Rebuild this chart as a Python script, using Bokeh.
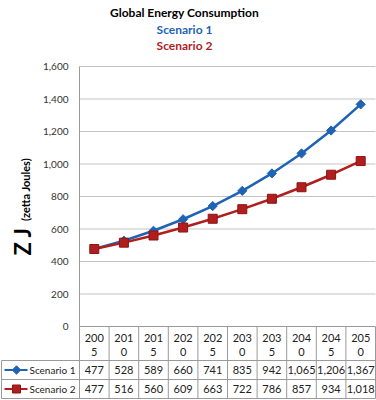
import numpy as np
from bokeh.plotting import figure
from bokeh.models import Range1d, FixedTicker, NumeralTickFormatter
from bokeh.core.properties import value
from bokeh.embed import file_html
from bokeh.resources import INLINE

# ---------------- data ----------------
years = ["2005", "2010", "2015", "2020", "2025", "2030", "2035", "2040", "2045", "2050"]
scenario1 = [477, 528, 589, 660, 741, 835, 942, 1065, 1206, 1367]
scenario2 = [477, 516, 560, 609, 663, 722, 786, 857, 934, 1018]
y_ticks = [0, 200, 400, 600, 800, 1000, 1200, 1400, 1600]
series_names = ["Scenario 1", "Scenario 2"]
title_text = "Global Energy Consumption"

# ---------------- layout (pixels) ----------------
W, H = 376, 400
LEFT, RIGHT, TOP, BOTTOM = 79, 375, 66, 398
ZERO_Y = 326
ROW1_TOP, ROW2_TOP = 360, 379
n = len(years)
col_w = (RIGHT - LEFT) / n
upp = y_ticks[-1] / (ZERO_Y - TOP)


def dx(px):
    return (px - LEFT) / col_w


def dy(py):
    return (ZERO_Y - py) * upp


BLUE = "#1F63B5"
RED = "#B01E1E"
RED_DARK = "#8A1515"
GRID = "#C4C4C4"
TABLE = "#9A9A9A"
FONT = "Lato"
TXT = "#222222"

p = figure(width=W, height=H, output_backend="svg", toolbar_location=None,
           x_range=Range1d(dx(0), dx(W)), y_range=Range1d(dy(H), dy(0)),
           x_axis_location=None,
           min_border_left=0, min_border_right=0, min_border_top=0, min_border_bottom=0)
p.outline_line_color = None
p.background_fill_color = "white"
p.border_fill_color = "white"

# y axis, placed at the left edge of the plot area
p.yaxis.fixed_location = 0
p.yaxis.bounds = (y_ticks[0], y_ticks[-1])
p.yaxis.ticker = FixedTicker(ticks=y_ticks)
p.yaxis.formatter = NumeralTickFormatter(format="0,0")
p.yaxis.major_tick_line_color = None
p.yaxis.minor_tick_line_color = None
p.yaxis.major_tick_out = 0
p.yaxis.major_tick_in = 0
p.yaxis.major_label_standoff = 11
p.yaxis.axis_line_color = TABLE
p.yaxis.major_label_text_font = FONT
p.yaxis.major_label_text_font_size = "10px"
p.yaxis.major_label_text_color = "#333333"
p.xgrid.visible = False
p.ygrid.visible = False

xs = [i + 0.5 for i in range(n)]

# horizontal gridlines across the plot area
gt = y_ticks[1:]
p.segment(x0=[0] * len(gt), y0=gt, x1=[n] * len(gt), y1=gt, line_color=GRID, line_width=1)

# series
p.line(xs, scenario1, line_color=BLUE, line_width=2.5)
p.scatter(xs, scenario1, marker="square", angle=np.pi / 4, size=6.5,
          fill_color=BLUE, line_color=BLUE)
p.line(xs, scenario2, line_color=RED, line_width=2.5)
p.scatter(xs, scenario2, marker="square", size=9, fill_color=RED, line_color=RED_DARK)

# data table grid
vx = list(range(0, n + 1))
p.segment(x0=vx, y0=[0] * len(vx), x1=vx, y1=[dy(BOTTOM)] * len(vx),
          line_color=TABLE, line_width=1)
hy = [dy(ROW1_TOP), dy(ROW2_TOP), dy(BOTTOM)]
p.segment(x0=[0], y0=[0], x1=[n], y1=[0], line_color=TABLE, line_width=1)
p.segment(x0=[dx(1)] * 3, y0=hy, x1=[n] * 3, y1=hy, line_color=TABLE, line_width=1)
p.segment(x0=[dx(1)], y0=[dy(ROW1_TOP)], x1=[dx(1)], y1=[dy(BOTTOM)],
          line_color=TABLE, line_width=1)

tk = dict(text_align="center", text_baseline="middle", text_font=value(FONT),
          text_font_size="11px", text_color=TXT)
# category row (wrapped years)
p.text(xs, [dy(337)] * n, text=[y[:3] for y in years], **tk)
p.text(xs, [dy(351)] * n, text=[y[3:] for y in years], **tk)

r1 = (ROW1_TOP + ROW2_TOP) / 2
r2 = (ROW2_TOP + BOTTOM) / 2
p.text(xs, [dy(r1)] * n, text=[f"{v:,}" for v in scenario1], **tk)
p.text(xs, [dy(r2)] * n, text=[f"{v:,}" for v in scenario2], **tk)

# legend keys in the table
p.segment(x0=[dx(4)], y0=[dy(r1)], x1=[dx(27)], y1=[dy(r1)], line_color=BLUE, line_width=2)
p.scatter([dx(16)], [dy(r1)], marker="square", angle=np.pi / 4, size=6,
          fill_color=BLUE, line_color=BLUE)
p.segment(x0=[dx(4)], y0=[dy(r2)], x1=[dx(27)], y1=[dy(r2)], line_color=RED, line_width=2)
p.scatter([dx(16)], [dy(r2)], marker="square", size=8, fill_color=RED, line_color=RED_DARK)
p.text([dx(29)] * 2, [dy(r1), dy(r2)], text=series_names, text_align="left",
       text_baseline="middle", text_font=value(FONT), text_font_size="10px", text_color=TXT)

# titles
p.text([dx(184)] * 3, [dy(12), dy(29), dy(45)],
       text=[title_text] + series_names, text_color=["#000000", BLUE, RED],
       text_align="center", text_baseline="middle", text_font=value(FONT),
       text_font_size="12px", text_font_style="bold")

# y axis title
p.text([dx(22)], [dy(241)], text=["Z J"], angle=np.pi / 2, text_align="center",
       text_baseline="middle", text_font=value(FONT), text_font_size="22px",
       text_font_style="bold", text_color="#000000")
p.text([dx(25)], [dy(189)], text=["(zetta Joules)"], angle=np.pi / 2, text_align="center",
       text_baseline="middle", text_font=value(FONT), text_font_size="11px",
       text_font_style="bold", text_color="#000000")

open("out.html", "w").write(file_html(p, INLINE))
